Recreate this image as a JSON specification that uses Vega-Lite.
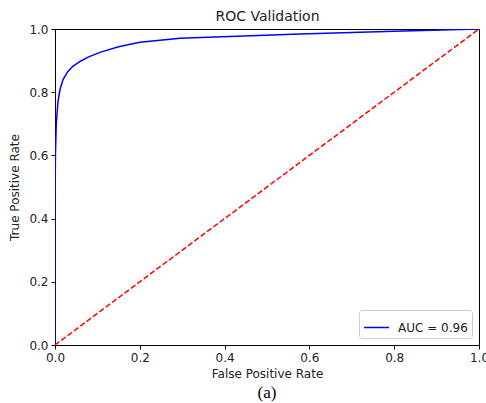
{
  "$schema": "https://vega.github.io/schema/vega-lite/v6.json",
  "autosize": "none",
  "width": 424,
  "height": 316,
  "padding": {"left": 55, "top": 29, "right": 7, "bottom": 58},
  "background": "white",
  "config": {
    "font": "DejaVu Sans",
    "view": {"stroke": "black", "strokeWidth": 1}
  },
  "title": {
    "text": "(a)",
    "orient": "bottom",
    "font": "Liberation Serif",
    "fontSize": 17,
    "fontWeight": "normal",
    "color": "black",
    "offset": 6
  },
  "layer": [
    {
      "data": {
        "values": [
          {"i": 0, "fpr": 0, "tpr": 0},
          {"i": 1, "fpr": 0, "tpr": 0.45},
          {"i": 2, "fpr": 0.001, "tpr": 0.6},
          {"i": 3, "fpr": 0.003, "tpr": 0.7},
          {"i": 4, "fpr": 0.007, "tpr": 0.77},
          {"i": 5, "fpr": 0.012, "tpr": 0.81},
          {"i": 6, "fpr": 0.019, "tpr": 0.84},
          {"i": 7, "fpr": 0.03, "tpr": 0.865},
          {"i": 8, "fpr": 0.042, "tpr": 0.882},
          {"i": 9, "fpr": 0.06, "tpr": 0.898},
          {"i": 10, "fpr": 0.078, "tpr": 0.911},
          {"i": 11, "fpr": 0.106, "tpr": 0.926},
          {"i": 12, "fpr": 0.15, "tpr": 0.944},
          {"i": 13, "fpr": 0.2, "tpr": 0.958},
          {"i": 14, "fpr": 0.295, "tpr": 0.971},
          {"i": 15, "fpr": 0.578, "tpr": 0.984},
          {"i": 16, "fpr": 0.8, "tpr": 0.993},
          {"i": 17, "fpr": 1, "tpr": 1}
        ]
      },
      "mark": {"type": "line", "strokeWidth": 1.5, "clip": true},
      "encoding": {
        "x": {
          "field": "fpr",
          "type": "quantitative",
          "scale": {"domain": [0, 1], "nice": false, "zero": false},
          "axis": {
            "title": "False Positive Rate",
            "values": [0, 0.2, 0.4, 0.6, 0.8, 1],
            "format": ".1f",
            "grid": false,
            "labelFlush": false,
            "domainColor": "black",
            "tickColor": "black",
            "tickSize": 4,
            "labelFontSize": 12,
            "labelColor": "#222222",
            "labelPadding": 3,
            "titleFontSize": 12,
            "titleFontWeight": "normal",
            "titleColor": "#222222",
            "titlePadding": 5
          }
        },
        "y": {
          "field": "tpr",
          "type": "quantitative",
          "scale": {"domain": [0, 1], "nice": false, "zero": false},
          "axis": {
            "title": "True Positive Rate",
            "values": [0, 0.2, 0.4, 0.6, 0.8, 1],
            "format": ".1f",
            "grid": false,
            "labelFlush": false,
            "domainColor": "black",
            "tickColor": "black",
            "tickSize": 4,
            "labelFontSize": 12,
            "labelColor": "#222222",
            "labelPadding": 3,
            "titleFontSize": 12,
            "titleFontWeight": "normal",
            "titleColor": "#222222",
            "titlePadding": 7
          }
        },
        "color": {
          "datum": "AUC = 0.96",
          "type": "nominal",
          "scale": {"range": ["#0000ff"]},
          "legend": {
            "title": null,
            "orient": "bottom-right",
            "offset": 7,
            "symbolType": "stroke",
            "symbolSize": 625,
            "symbolStrokeWidth": 1.5,
            "labelFontSize": 12,
            "labelColor": "#222222",
            "labelOffset": 8,
            "padding": 4,
            "cornerRadius": 3,
            "strokeColor": "#cccccc",
            "fillColor": "white"
          }
        },
        "order": {"field": "i", "type": "quantitative"}
      }
    },
    {
      "data": {"values": [{"fpr": 0, "tpr": 0}, {"fpr": 1, "tpr": 1}]},
      "mark": {"type": "line", "color": "#ff0000", "strokeWidth": 1.5, "strokeDash": [5.5, 2.4]},
      "encoding": {
        "x": {
          "field": "fpr",
          "type": "quantitative",
          "axis": {
            "orient": "top",
            "title": "ROC Validation",
            "labels": false,
            "ticks": false,
            "domain": false,
            "grid": false,
            "titleFontSize": 14,
            "titleFontWeight": "normal",
            "titleColor": "#222222",
            "titlePadding": 6
          }
        },
        "y": {"field": "tpr", "type": "quantitative"}
      }
    }
  ],
  "resolve": {"axis": {"x": "independent"}}
}
